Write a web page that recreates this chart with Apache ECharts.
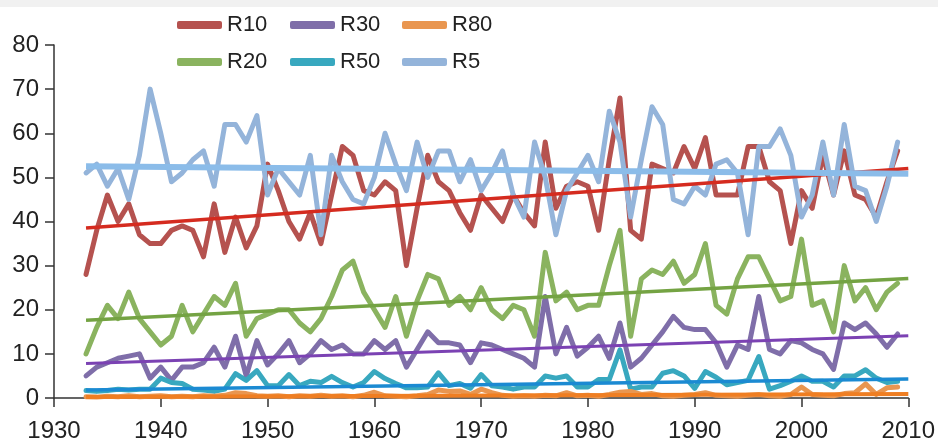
<!DOCTYPE html>
<html>
<head>
<meta charset="utf-8">
<script src="https://cdn.jsdelivr.net/npm/echarts@6/dist/echarts.min.js"></script>
<style>
html,body{margin:0;padding:0;background:#fff;}
#chart{width:938px;height:446px;}
</style>
</head>
<body>
<div id="chart"></div>
<script>
var years = [1933,1934,1935,1936,1937,1938,1939,1940,1941,1942,1943,1944,1945,1946,1947,1948,1949,1950,
  1951,1952,1953,1954,1955,1956,1957,1958,1959,1960,1961,1962,1963,1964,1965,1966,1967,1968,1969,1970,
  1971,1972,1973,1974,1975,1976,1977,1978,1979,1980,1981,1982,1983,1984,1985,1986,1987,1988,1989,1990,
  1991,1992,1993,1994,1995,1996,1997,1998,1999,2000,2001,2002,2003,2004,2005,2006,2007,2008,2009];

var R5 = [51,53,48,52,45,55,70,60,49,51,54,56,48,62,62,58,64,46,
  52,49,46,55,37,55,49,45,44,50,60,53,47,58,50,56,56,49,54,47,
  51,56,46,41,58,50,37,47,51,55,49,65,58,41,54,66,62,45,44,48,
  46,53,54,51,37,57,57,61,55,41,46,58,46,62,48,47,40,48,58];

var R10 = [28,38,46,40,44,37,35,35,38,39,38,32,44,33,41,34,39,53,
  47,40,36,42,35,46,57,55,47,46,49,47,30,43,55,49,47,42,38,46,
  43,40,46,42,39,58,43,48,49,48,38,54,68,38,36,53,52,51,57,52,
  59,46,46,46,57,57,49,47,35,47,43,55,46,56,46,45,41,49,56];

var R20 = [10,16,21,18,24,18,15,12,14,21,15,19,23,21,26,14,18,19,
  20,20,17,15,18,23,29,31,24,20,16,23,14,22,28,27,21,23,20,25,
  20,18,21,20,14,33,22,24,20,21,21,30,38,14,27,29,28,31,26,28,
  35,21,19,27,32,32,27,22,23,36,21,22,15,30,22,25,20,24,26];

var R30 = [5,7,8,9,9.5,10,4.5,7,4,7,7,8,11.5,7,14,5,13,7.5,
  10,13,8,10,13,11,12,10,10,13,11,13,7,11,15,12.5,12.5,12,8,12.5,
  12,11,10,9,7,23,10,16,9.5,11.5,14,9,17,7,9,12,15,18.5,16,15.5,
  15.5,12.5,7,12,11,23,11,10,13,12.5,11,10,6.5,17,15.5,17,14.5,11.5,14.5];

var R50 = [1.7,1.5,1.7,2,1.8,2,2,4.5,3.5,3.3,2,1.8,1.5,2,5.5,4,6.2,2.8,
  2.8,5.3,2.8,3.8,3.5,4.9,3.5,2.5,3.5,6,4.4,3.3,2.3,2.3,2.5,5.7,2.8,3.3,2.2,5.3,
  2.8,2.5,2,2.5,2.5,5,4.5,5,2.5,2.5,4.2,4.2,10.9,2,2.5,2.5,5.6,6.2,5,2.2,
  6,4.7,3,3.5,4,9.4,2,2.8,3.8,5,3.8,3.8,2.5,5,5,6.4,4.5,3.5,3.8];

var R80 = [0.3,0.2,0.4,0.3,0.5,0.3,0.4,0.5,0.3,0.4,0.3,0.5,0.4,0.6,1.2,1,0.5,0.4,
  0.5,0.3,0.5,0.4,0.6,0.4,0.5,0.3,0.6,1.3,0.5,0.4,0.3,0.5,0.8,1.8,1.5,1.6,0.8,2,
  1.2,0.6,0.4,0.5,0.4,0.6,0.5,1.2,0.5,0.6,0.4,0.8,1.3,1.5,0.8,1,0.5,0.4,0.6,0.8,
  1.2,0.6,0.5,0.4,0.6,0.8,0.5,0.4,0.8,2.5,0.8,0.6,0.5,1,1.2,3.2,0.8,2.3,2.5];

var trendYears = [1933, 2010];
var trendR10 = [38.5, 52.0];
var trendR20 = [17.6, 27.1];
var trendR30 = [7.8, 14.1];
var trendR50 = [1.8, 4.3];
var trendR80 = [0.2, 0.9];
var trendR5  = [52.5, 50.8];

var xTicks = [1930,1940,1950,1960,1970,1980,1990,2000,2010];
var yTicks = [0,10,20,30,40,50,60,70,80];

function pairs(xs, ys){ return xs.map(function(x,i){ return [x, ys[i]]; }); }

var names = ['R10','R20','R30','R50','R80','R5'];
var vals = [R10,R20,R30,R50,R80,R5];
var trends = [trendR10,trendR20,trendR30,trendR50,trendR80,trendR5];
var seriesColors = {R10:'#b5524f',R20:'#8ab35f',R30:'#7f6ea9',R50:'#38a8bf',R80:'#e99650',R5:'#94b4da'};
var trendColors  = {R10:'#d52b1f',R20:'#74a343',R30:'#7b42b3',R50:'#1b8ad2',R80:'#ef7e22',R5:'#8bbce9'};
var trendWidths  = {R10:3.5,R20:3.5,R30:3,R50:3.5,R80:4,R5:6};

var series = [];
names.forEach(function(n,i){
  series.push({name:n,type:'line',data:pairs(years, vals[i]),showSymbol:false,symbol:'none',
    lineStyle:{color:seriesColors[n],width:5,cap:'round',join:'round'},
    itemStyle:{color:seriesColors[n]},z:2});
});
names.forEach(function(n,i){
  series.push({name:n+' trend',type:'line',data:pairs(trendYears, trends[i]),showSymbol:false,symbol:'none',
    lineStyle:{color:trendColors[n],width:trendWidths[n],cap:'butt'},z:3,silent:true});
});

var legendFont = {fontFamily:'"Liberation Sans",Arial,sans-serif',fontSize:22,color:'#222'};
function legendAt(name,left,top){
  return {data:[name],left:left,top:top,icon:'roundRect',itemWidth:45,itemHeight:8,
    textStyle:legendFont,selectedMode:false,padding:0};
}

var chart = echarts.init(document.getElementById('chart'),null,{renderer:'canvas'});
chart.setOption({
  animation:false,
  backgroundColor:'#ffffff',
  graphic:[{type:'rect',left:0,top:0,shape:{width:938,height:7},style:{fill:'#f1f1f1'},silent:true}],
  legend:[
    legendAt('R10',177,14), legendAt('R30',290,14), legendAt('R80',402,14),
    legendAt('R20',177,51), legendAt('R50',290,51), legendAt('R5',402,51)
  ],
  grid:{left:54,right:28,top:45,bottom:48,containLabel:false},
  xAxis:{type:'value',min:xTicks[0],max:xTicks[xTicks.length-1],interval:10,
    axisLine:{show:true,lineStyle:{color:'#333',width:1.5}},
    axisTick:{show:true,length:9,lineStyle:{color:'#333',width:1.5}},
    splitLine:{show:false},
    axisLabel:{margin:21,fontSize:24,color:'#222',fontFamily:'"Liberation Sans",Arial,sans-serif',
      formatter:function(v){return String(v);}}},
  yAxis:{type:'value',min:yTicks[0],max:yTicks[yTicks.length-1],interval:10,
    axisLine:{show:true,lineStyle:{color:'#333',width:1.5}},
    axisTick:{show:true,length:9,lineStyle:{color:'#333',width:1.5}},
    splitLine:{show:false},
    axisLabel:{margin:15,fontSize:24,color:'#222',fontFamily:'"Liberation Sans",Arial,sans-serif'}},
  series:series
});
</script>
</body>
</html>
